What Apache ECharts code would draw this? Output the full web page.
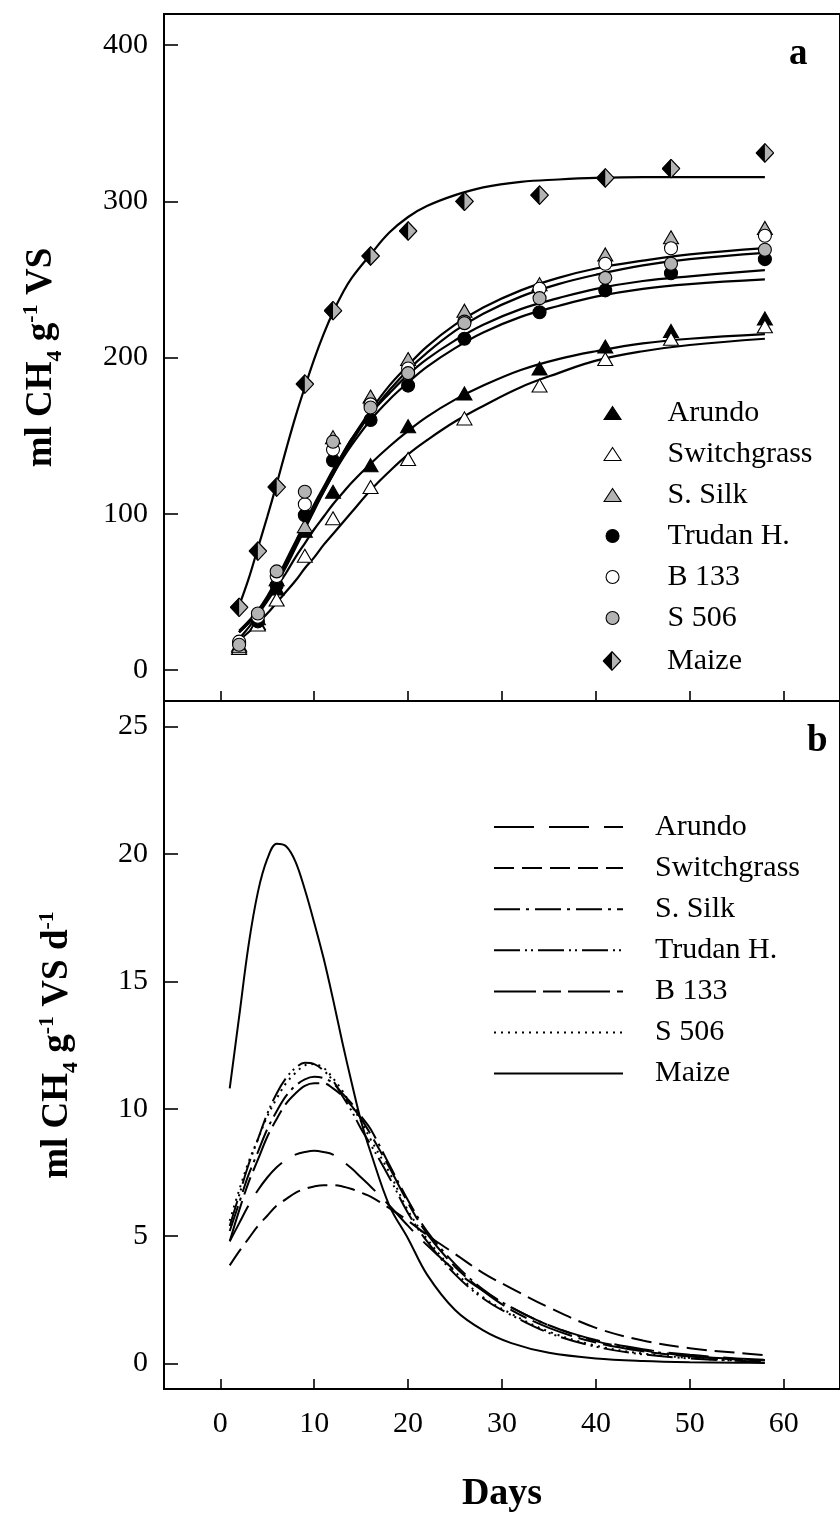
<!DOCTYPE html>
<html><head><meta charset="utf-8">
<script src="https://cdn.jsdelivr.net/npm/echarts@6/dist/echarts.min.js"></script>
<style>html,body{margin:0;padding:0;background:#fff}#c{width:840px;height:1515px}</style>
</head><body><div id="c"></div>
<script>
// ---------- data ----------
const names = ['Arundo', 'Switchgrass', 'S. Silk', 'Trudan H.', 'B 133', 'S 506', 'Maize'];

// panel a: measured cumulative yield (points)
const pointDays   = [2, 4, 6, 9, 12, 16, 20, 26, 34, 41, 48, 58];
const ptArundo    = [16, 30, 52, 89, 114, 131, 156, 177, 193, 207, 217, 225];
const ptSwitch    = [14, 29, 45, 73, 97, 117, 135, 161, 182, 199, 212, 220];
const ptSilk      = [15, 33, 58, 92, 149, 175, 199, 230, 247, 266, 277, 283];
const ptTrudan    = [17, 31, 54, 99, 134, 160, 182, 212, 229, 243, 254, 263];
const ptB133      = [18, 34, 60, 106, 141, 170, 193, 223, 244, 260, 270, 278];
const ptS506      = [16, 36, 63, 114, 146, 168, 190, 222, 238, 251, 260, 269];
const ptMaize     = [40, 76, 117, 183, 230, 265, 281, 300, 304, 315, 321, 331];

// panel a: fitted curves
const fitDays   = [2, 3, 4, 5, 6, 7, 8, 9, 10, 11, 12, 13, 14, 16, 18, 20, 22, 25, 28, 32, 36, 40, 45, 50, 58];
const fitArundo = [20, 27, 35, 44, 53, 62, 72, 81, 90, 98, 106, 113, 120, 132, 143, 153, 162, 173, 182, 192, 199, 204, 209, 212, 215];
const fitSwitch = [19, 24, 30, 36, 43, 50, 57, 65, 72, 80, 87, 94, 101, 115, 127, 138, 147, 159, 169, 181, 190, 198, 204, 208, 212];
const fitSilk   = [24, 30, 37, 46, 56, 68, 80, 92, 104, 116, 127, 138, 148, 166, 182, 195, 207, 221, 232, 243, 251, 257, 262, 266, 270];
const fitTrudan = [24, 30, 37, 46, 56, 67, 79, 91, 103, 114, 125, 135, 144, 160, 173, 184, 194, 206, 216, 226, 233, 239, 244, 247, 250];
const fitB133   = [24, 30, 37, 45, 55, 66, 78, 90, 102, 114, 125, 136, 146, 164, 179, 192, 203, 217, 228, 239, 247, 253, 259, 263, 267];
const fitS506   = [25, 31, 38, 47, 58, 70, 82, 94, 106, 117, 128, 138, 148, 164, 177, 189, 199, 211, 221, 231, 238, 244, 249, 252, 256];
const fitMaize  = [41, 58, 78, 98, 119, 141, 162, 181, 199, 215, 229, 241, 251, 266, 280, 290, 297, 304, 309, 312.5, 314, 315, 315.5, 315.5, 315.5];

// panel b: daily production rate curves
const rateDays   = [1, 2, 3, 4, 5, 6, 7, 8, 9, 10, 11, 12, 13, 14, 15, 16, 18, 20, 22, 25, 28, 31, 35, 40, 45, 50, 55, 58];
const rateArundo = [4.8, 5.5, 6.2, 6.8, 7.3, 7.7, 8.0, 8.2, 8.3, 8.35, 8.3, 8.2, 7.95, 7.65, 7.3, 6.95, 6.2, 5.4, 4.65, 3.65, 2.85, 2.2, 1.5, 0.92, 0.56, 0.34, 0.2, 0.15];
const rateSwitch = [3.85, 4.4, 4.9, 5.4, 5.8, 6.2, 6.45, 6.7, 6.85, 6.95, 7.0, 7.0, 6.95, 6.85, 6.7, 6.55, 6.1, 5.6, 5.05, 4.3, 3.55, 2.95, 2.2, 1.4, 0.9, 0.6, 0.42, 0.33];
const rateSilk   = [5.2, 6.3, 7.4, 8.3, 9.2, 9.9, 10.5, 10.9, 11.15, 11.25, 11.2, 11.0, 10.6, 10.2, 9.7, 9.2, 7.8, 6.4, 5.2, 3.9, 2.9, 2.2, 1.5, 0.88, 0.52, 0.3, 0.18, 0.14];
const rateTrudan = [5.4, 6.6, 7.8, 8.8, 9.8, 10.6, 11.2, 11.6, 11.8, 11.75, 11.5, 11.1, 10.5, 9.9, 9.2, 8.6, 7.3, 5.9, 4.8, 3.5, 2.55, 1.9, 1.2, 0.66, 0.36, 0.2, 0.11, 0.08];
const rateB133   = [4.8, 6.0, 7.1, 8.0, 8.9, 9.6, 10.2, 10.6, 10.9, 11.0, 11.0, 10.8, 10.5, 10.1, 9.6, 9.0, 7.7, 6.3, 5.1, 3.8, 2.85, 2.1, 1.4, 0.82, 0.48, 0.28, 0.16, 0.12];
const rateS506   = [5.6, 6.8, 7.9, 8.8, 9.7, 10.4, 11.0, 11.4, 11.7, 11.75, 11.6, 11.2, 10.7, 10.1, 9.5, 8.8, 7.5, 6.0, 4.9, 3.6, 2.6, 1.95, 1.25, 0.7, 0.39, 0.22, 0.12, 0.09];
const rateMaize  = [10.8, 13.6, 16.4, 18.5, 19.8, 20.4, 20.3, 19.7, 18.6, 17.3, 15.9, 14.3, 12.6, 11.0, 9.5, 8.3, 6.2, 4.9, 3.5, 2.1, 1.3, 0.8, 0.42, 0.2, 0.1, 0.05, 0.03, 0.02];

// tick labels
const xTicks  = [0, 10, 20, 30, 40, 50, 60];
const yTicksA = [0, 100, 200, 300, 400];
const yTicksB = [0, 5, 10, 15, 20, 25];

// ---------- styling ----------
const FONT = 'Liberation Serif';
const GRAY = '#b3b3b3';
const pair = (xs, ys) => xs.map((x, i) => [x, ys[i]]);

const diamondSvg = '<svg xmlns="http://www.w3.org/2000/svg" width="38" height="40" viewBox="0 0 38 40">' +
  '<polygon points="19,1.5 36.5,20 19,38.5 1.5,20" fill="' + GRAY + '"/>' +
  '<polygon points="19,1.5 1.5,20 19,38.5" fill="#000"/>' +
  '<polygon points="19,1.5 36.5,20 19,38.5 1.5,20" fill="none" stroke="#000" stroke-width="2.4"/></svg>';
const diamondSym = 'image://data:image/svg+xml;charset=utf-8,' + encodeURIComponent(diamondSvg);

const points = [ptArundo, ptSwitch, ptSilk, ptTrudan, ptB133, ptS506, ptMaize];
const fits = [fitArundo, fitSwitch, fitSilk, fitTrudan, fitB133, fitS506, fitMaize];
const rates = [rateArundo, rateSwitch, rateSilk, rateTrudan, rateB133, rateS506, rateMaize];

const markerStyle = [
  { symbol: 'triangle', size: [15, 13], fill: '#000', lw: [17, 13] },
  { symbol: 'triangle', size: [15, 13], fill: '#fff', lw: [17, 13] },
  { symbol: 'triangle', size: [15, 13], fill: GRAY, lw: [17, 13] },
  { symbol: 'circle', size: 13, fill: '#000', lw: [13, 13] },
  { symbol: 'circle', size: 13, fill: '#fff', lw: [13, 13] },
  { symbol: 'circle', size: 13, fill: GRAY, lw: [13, 13] },
  { symbol: diamondSym, size: [19, 20], fill: GRAY, lw: [20, 20] }
];
const dashTypes = [[40, 15], [20, 8], [26, 6, 3, 6], [26, 5, 2, 4, 2, 5], [42, 7, 18, 7], [2, 5], 'solid'];
const legendRowsA = [413, 454, 495, 536, 577, 618, 661];

const series = [];
fits.forEach((f, i) => series.push({
  name: names[i] + ' fit', type: 'line', xAxisIndex: 0, yAxisIndex: 0,
  data: pair(fitDays, f), smooth: 0.4, showSymbol: false, symbol: 'none', silent: true, z: 2,
  lineStyle: { color: '#000', width: 2.2 }
}));
points.forEach((p, i) => series.push({
  name: names[i], type: 'scatter', xAxisIndex: 0, yAxisIndex: 0,
  data: pair(pointDays, p), symbol: markerStyle[i].symbol, symbolSize: markerStyle[i].size, z: 3 + i,
  itemStyle: { color: markerStyle[i].fill, borderColor: '#000', borderWidth: 1.1, opacity: 1 }
}));
rates.forEach((r, i) => series.push({
  name: names[i] + ' ', type: 'line', xAxisIndex: 1, yAxisIndex: 1,
  data: pair(rateDays, r), smooth: 0.35, showSymbol: false, symbol: 'none', z: 2,
  lineStyle: { color: '#000', width: 2, type: dashTypes[i] }
}));

const legends = names.map((n, i) => {
  const [w, h] = markerStyle[i].lw;
  const left = 612 - w / 2;
  return {
    data: [n], orient: 'vertical', left: left, top: legendRowsA[i] - 15, padding: 0,
    itemWidth: w, itemHeight: h, selectedMode: false,
    itemStyle: { borderWidth: 1.1, borderColor: '#000' },
    textStyle: { fontFamily: FONT, fontSize: 30, lineHeight: 30, color: '#000', padding: [0, 0, 0, 667 - (left + w + 5)] }
  };
});
legends.push({
  data: names.map((n, i) => ({ name: n + ' ', itemStyle: { opacity: 0 },
    lineStyle: { type: dashTypes[i], width: 2, color: '#000' } })),
  orient: 'vertical', left: 493, top: 812, padding: 0, itemGap: 11.1,
  itemWidth: 129, itemHeight: 14, selectedMode: false,
  formatter: n => n.trim(),
  textStyle: { fontFamily: FONT, fontSize: 30, lineHeight: 30, color: '#000', padding: [0, 0, 0, 27] }
});

const titleRich = {
  t: { fontFamily: FONT, fontWeight: 'bold', fontSize: 37, lineHeight: 50, verticalAlign: 'middle', color: '#000' },
  sub: { fontFamily: FONT, fontWeight: 'bold', fontSize: 22, lineHeight: 22, verticalAlign: 'bottom', color: '#000' },
  sup: { fontFamily: FONT, fontWeight: 'bold', fontSize: 22, lineHeight: 22, verticalAlign: 'top', padding: [4, 0, 0, 0], color: '#000' }
};

const xAxisCommon = {
  type: 'value', min: -6, max: 66,
  axisLine: { show: false, onZero: false }, splitLine: { show: false },
  axisTick: { inside: true, length: 10, customValues: xTicks, lineStyle: { color: '#000', width: 1.6 } }
};
const yTickLabel = { fontFamily: FONT, fontSize: 30, color: '#000', margin: 16 };

const option = {
  animation: false,
  backgroundColor: '#fff',
  textStyle: { fontFamily: FONT },
  grid: [
    { left: 164, top: 14, right: -8, height: 687, show: true, borderColor: '#000', borderWidth: 2, backgroundColor: 'transparent' },
    { left: 164, top: 701, right: -8, height: 688, show: true, borderColor: '#000', borderWidth: 2, backgroundColor: 'transparent' }
  ],
  xAxis: [
    Object.assign({ gridIndex: 0, axisLabel: { show: false } }, xAxisCommon),
    Object.assign({ gridIndex: 1, name: 'Days', nameLocation: 'middle', nameGap: 86,
      nameTextStyle: { fontFamily: FONT, fontWeight: 'bold', fontSize: 38, color: '#000' },
      axisLabel: { customValues: xTicks, fontFamily: FONT, fontSize: 30, color: '#000', margin: 20 } }, xAxisCommon)
  ],
  yAxis: [
    { type: 'value', gridIndex: 0, min: -20, max: 420,
      axisLine: { show: false, onZero: false }, splitLine: { show: false },
      axisTick: { inside: true, length: 14, customValues: yTicksA, lineStyle: { color: '#000', width: 1.6 } },
      axisLabel: Object.assign({ customValues: yTicksA }, yTickLabel),
      name: '{t|ml CH}{sub|4}{t| g}{sup|-1}{t| VS}', nameLocation: 'middle', nameRotate: 90, nameGap: 98,
      nameTextStyle: { rich: titleRich } },
    { type: 'value', gridIndex: 1, min: -1, max: 26,
      axisLine: { show: false, onZero: false }, splitLine: { show: false },
      axisTick: { inside: true, length: 14, customValues: yTicksB, lineStyle: { color: '#000', width: 1.6 } },
      axisLabel: Object.assign({ customValues: yTicksB }, yTickLabel),
      name: '{t|ml CH}{sub|4}{t| g}{sup|-1}{t| VS d}{sup|-1}', nameLocation: 'middle', nameRotate: 90, nameGap: 82,
      nameTextStyle: { rich: titleRich } }
  ],
  legend: legends,
  graphic: [
    { type: 'text', x: 789, y: 54, style: { text: 'a', fontFamily: FONT, fontWeight: 'bold', fontSize: 37, fill: '#000', verticalAlign: 'middle' } },
    { type: 'text', x: 807, y: 741, style: { text: 'b', fontFamily: FONT, fontWeight: 'bold', fontSize: 37, fill: '#000', verticalAlign: 'middle' } }
  ],
  series: series
};

const chart = echarts.init(document.getElementById('c'), null, { renderer: 'canvas' });
chart.setOption(option);
</script>
</body></html>
